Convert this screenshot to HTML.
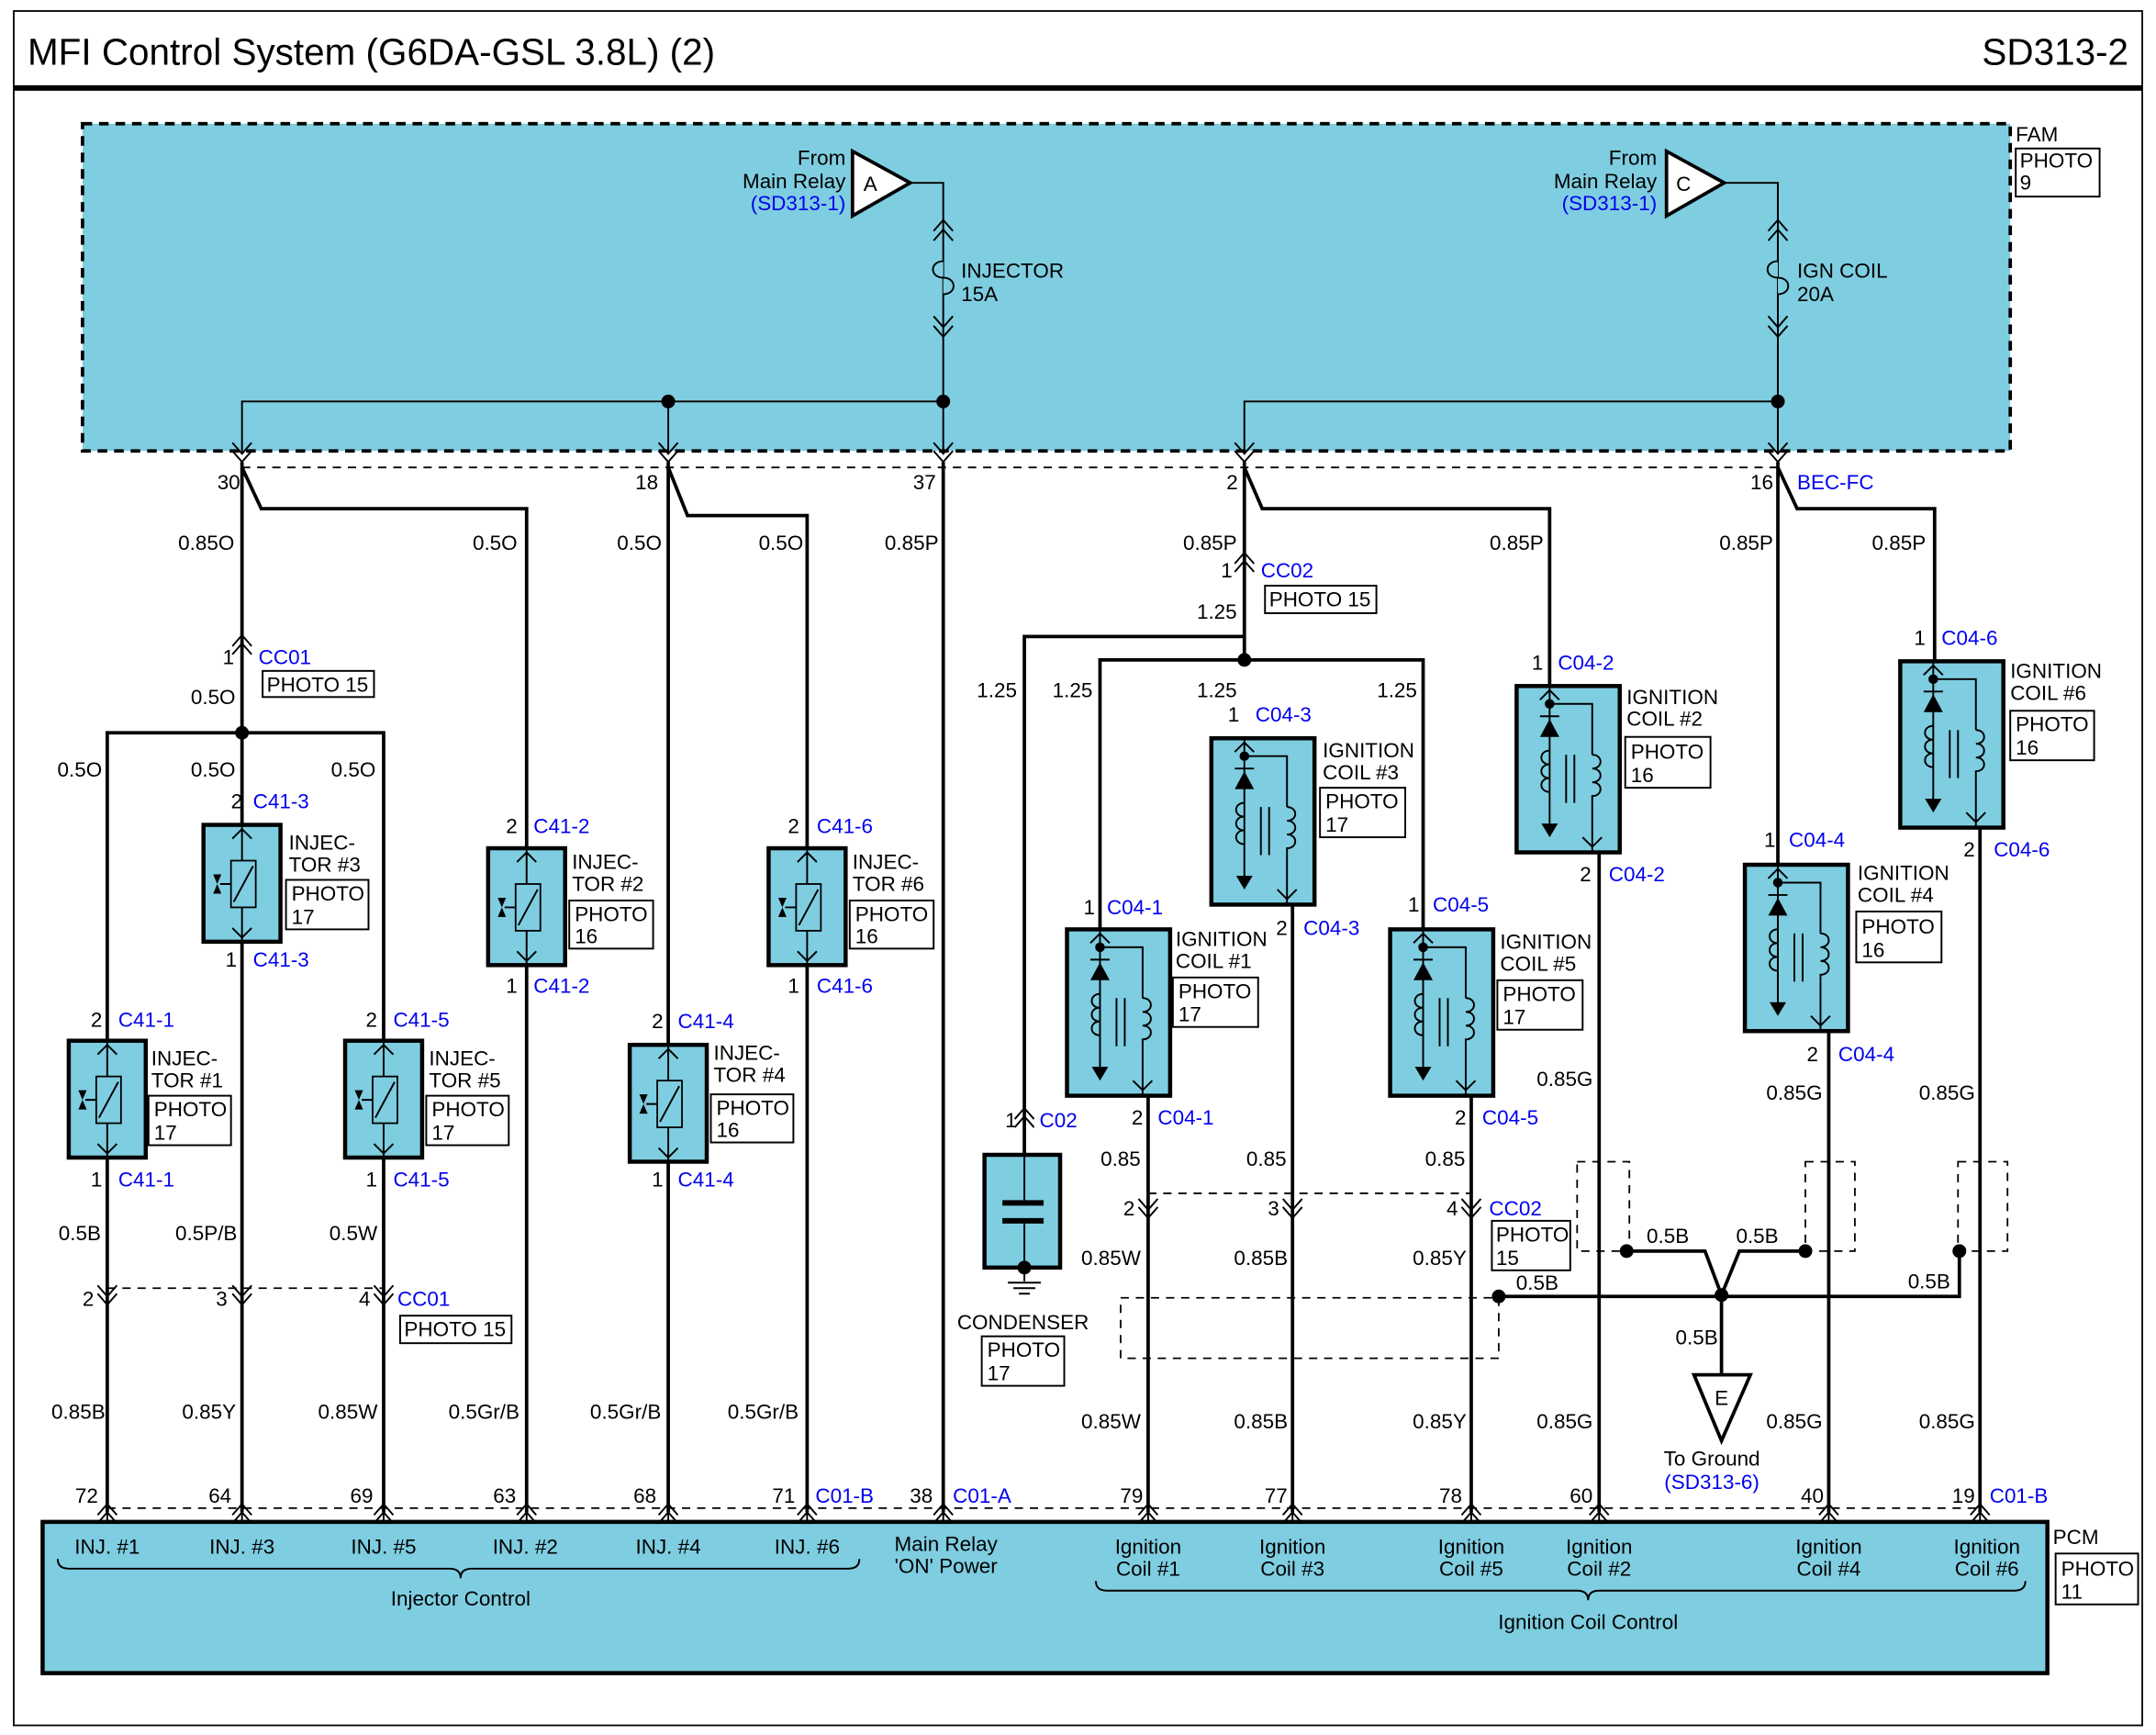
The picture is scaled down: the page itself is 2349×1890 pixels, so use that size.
<!DOCTYPE html>
<html><head><meta charset="utf-8"><style>
html,body{margin:0;padding:0;background:#fff}
svg{display:block}
text{font-family:"Liberation Sans",Arial,sans-serif;font-size:15px;fill:#000}
.b{fill:#0000ee}
.w{stroke:#000;stroke-width:2.5;fill:none}
.t{stroke:#000;stroke-width:1.3;fill:none}
.d{stroke:#000;stroke-width:1.2;fill:none;stroke-dasharray:6,5}
.bx{fill:#fff;stroke:#000;stroke-width:1.3}
.c{fill:#7fcde0;stroke:#000;stroke-width:3}
</style></head><body>
<svg width="2349" height="1890" viewBox="0 0 1568 1262" preserveAspectRatio="none" xmlns="http://www.w3.org/2000/svg">
<defs>
<path id="cv" d="M-7,-8 L0,0 L7,-8 M-7,-2 L0,6 L7,-2" stroke="#000" stroke-width="1.3" fill="none"/>
<path id="cu" d="M-7,8 L0,0 L7,8 M-7,2 L0,-6 L7,2" stroke="#000" stroke-width="1.3" fill="none"/>
<g id="inj">
<rect x="0" y="0" width="56" height="85" class="c"/>
<path d="M28,0 V85 M21,10 L28,3 L35,10 M21,75 L28,82 L35,75" class="t"/>
<rect x="20" y="26" width="18" height="34" fill="#7fcde0" stroke="#000" stroke-width="1.2"/>
<path d="M22,56 L36,30 M12,43 H20" class="t"/>
<path d="M7,36 L13,36 L7,50 L13,50 Z" fill="#000"/>
</g>
<g id="coil">
<rect x="0" y="0" width="75" height="121" class="c"/>
<path d="M24,0 V104 M17,10 L24,3 L31,10 M24,13 H55 V50 M55,85 V121 M48,110 L55,117 L62,110" class="t"/>
<circle cx="24" cy="13" r="3.5" fill="#000"/>
<path d="M17,22 H31" class="t"/>
<path d="M17,37 L24,24 L31,37 Z" fill="#000"/>
<path d="M24,47 c-8,0 -8,10 0,10 c-8,0 -8,10 0,10 c-8,0 -8,10 0,10 M55,50 c8,0 8,10 0,10 c8,0 8,10 0,10 c8,0 8,10 0,10 v5" class="t"/>
<path d="M36,50 V85 M42,50 V85" class="t"/>
<path d="M18,100 L30,100 L24,110 Z" fill="#000"/>
</g>
</defs>

<!-- frame -->
<rect x="10" y="8" width="1548" height="1247" fill="none" stroke="#000" stroke-width="1.2"/>
<text x="20" y="47" style="font-size:27px">MFI Control System (G6DA-GSL 3.8L) (2)</text>
<text x="1548" y="47" text-anchor="end" style="font-size:27px">SD313-2</text>
<rect x="10" y="62" width="1548" height="4" fill="#000"/>

<!-- FAM -->
<rect x="60" y="90" width="1402" height="238" fill="#7fcde0" stroke="#000" stroke-width="2.5" stroke-dasharray="7,5"/>
<text x="1466" y="103">FAM</text>
<rect x="1466" y="108" width="61" height="35" class="bx"/><text x="1469" y="122">PHOTO</text><text x="1469" y="138">9</text>

<!-- fuses -->
<path d="M620,110 L662,133 L620,157 Z" fill="#fff" stroke="#000" stroke-width="2.5"/><text x="628" y="139">A</text>
<text x="615" y="120" text-anchor="end">From</text><text x="615" y="137" text-anchor="end">Main Relay</text><text x="615" y="153" text-anchor="end" class="b">(SD313-1)</text>
<path d="M662,133 H686 V292" class="t"/>
<path d="M686,160 l-7,8 M686,160 l7,8 M686,167 l-7,8 M686,167 l7,8 M686,245 l-7,-8 M686,245 l7,-8 M686,238 l-7,-8 M686,238 l7,-8" class="t"/>
<path d="M686,190 c-10,0 -10,12 0,12 c10,0 10,12 0,12" fill="#7fcde0" stroke="#000" stroke-width="1.3"/>
<text x="699" y="202">INJECTOR</text><text x="699" y="219">15A</text>

<path d="M1212,110 L1254,133 L1212,157 Z" fill="#fff" stroke="#000" stroke-width="2.5"/><text x="1219" y="139">C</text>
<text x="1205" y="120" text-anchor="end">From</text><text x="1205" y="137" text-anchor="end">Main Relay</text><text x="1205" y="153" text-anchor="end" class="b">(SD313-1)</text>
<path d="M1254,133 H1293 V292" class="t"/>
<path d="M1293,160 l-7,8 M1293,160 l7,8 M1293,167 l-7,8 M1293,167 l7,8 M1293,245 l-7,-8 M1293,245 l7,-8 M1293,238 l-7,-8 M1293,238 l7,-8" class="t"/>
<path d="M1293,190 c-10,0 -10,12 0,12 c10,0 10,12 0,12" fill="#7fcde0" stroke="#000" stroke-width="1.3"/>
<text x="1307" y="202">IGN COIL</text><text x="1307" y="219">20A</text>

<!-- buses -->
<path d="M176,330 V292 H686 M486,292 V330 M686,292 V330 M905,330 V292 H1293 V330" class="t"/>
<circle cx="486" cy="292" r="5" fill="#000"/><circle cx="686" cy="292" r="5" fill="#000"/><circle cx="1293" cy="292" r="5" fill="#000"/>
<use href="#cv" x="176" y="330"/><use href="#cv" x="486" y="330"/><use href="#cv" x="686" y="330"/><use href="#cv" x="905" y="330"/><use href="#cv" x="1293" y="330"/>
<path d="M176,340 H1293" class="d"/>
<text x="158" y="356">30</text><text x="462" y="356">18</text><text x="664" y="356">37</text><text x="892" y="356">2</text><text x="1273" y="356">16</text><text x="1307" y="356" class="b">BEC-FC</text>

<!-- injector wiring -->
<path d="M176,336 V533 M176,340 L190,370 H383 V617 M486,336 V760 M486,340 L500,375 H587 V617 M686,336 V1100" class="w"/>
<path d="M78,757 V533 H279 V757 M176,533 V600" class="w"/>
<circle cx="176" cy="533" r="5" fill="#000"/>
<use href="#cu" x="176" y="468"/>
<text x="150" y="400" text-anchor="middle">0.85O</text><text x="360" y="400" text-anchor="middle">0.5O</text><text x="465" y="400" text-anchor="middle">0.5O</text><text x="568" y="400" text-anchor="middle">0.5O</text><text x="663" y="400" text-anchor="middle">0.85P</text>
<text x="162" y="483">1</text><text x="188" y="483" class="b">CC01</text>
<rect x="191" y="488" width="81" height="19" class="bx"/><text x="194" y="503">PHOTO 15</text>
<text x="155" y="512" text-anchor="middle">0.5O</text>
<text x="58" y="565" text-anchor="middle">0.5O</text><text x="155" y="565" text-anchor="middle">0.5O</text><text x="257" y="565" text-anchor="middle">0.5O</text>

<!-- injectors -->
<use href="#inj" x="148" y="600"/>
<text x="168" y="588">2</text><text x="184" y="588" class="b">C41-3</text>
<text x="210" y="618">INJEC-</text><text x="210" y="634">TOR #3</text>
<rect x="208" y="640" width="60" height="36" class="bx"/><text x="212" y="655">PHOTO</text><text x="212" y="672">17</text>
<text x="164" y="703">1</text><text x="184" y="703" class="b">C41-3</text>

<use href="#inj" x="50" y="757"/>
<text x="66" y="747">2</text><text x="86" y="747" class="b">C41-1</text>
<text x="110" y="775">INJEC-</text><text x="110" y="791">TOR #1</text>
<rect x="108" y="797" width="60" height="36" class="bx"/><text x="112" y="812">PHOTO</text><text x="112" y="829">17</text>
<text x="66" y="863">1</text><text x="86" y="863" class="b">C41-1</text>

<use href="#inj" x="251" y="757"/>
<text x="266" y="747">2</text><text x="286" y="747" class="b">C41-5</text>
<text x="312" y="775">INJEC-</text><text x="312" y="791">TOR #5</text>
<rect x="310" y="797" width="60" height="36" class="bx"/><text x="314" y="812">PHOTO</text><text x="314" y="829">17</text>
<text x="266" y="863">1</text><text x="286" y="863" class="b">C41-5</text>

<use href="#inj" x="355" y="617"/>
<text x="368" y="606">2</text><text x="388" y="606" class="b">C41-2</text>
<text x="416" y="632">INJEC-</text><text x="416" y="648">TOR #2</text>
<rect x="414" y="655" width="61" height="35" class="bx"/><text x="418" y="670">PHOTO</text><text x="418" y="686">16</text>
<text x="368" y="722">1</text><text x="388" y="722" class="b">C41-2</text>

<use href="#inj" x="559" y="617"/>
<text x="573" y="606">2</text><text x="594" y="606" class="b">C41-6</text>
<text x="620" y="632">INJEC-</text><text x="620" y="648">TOR #6</text>
<rect x="618" y="655" width="61" height="35" class="bx"/><text x="622" y="670">PHOTO</text><text x="622" y="686">16</text>
<text x="573" y="722">1</text><text x="594" y="722" class="b">C41-6</text>

<use href="#inj" x="458" y="760"/>
<text x="474" y="748">2</text><text x="493" y="748" class="b">C41-4</text>
<text x="519" y="771">INJEC-</text><text x="519" y="787">TOR #4</text>
<rect x="517" y="796" width="60" height="35" class="bx"/><text x="521" y="811">PHOTO</text><text x="521" y="827">16</text>
<text x="474" y="863">1</text><text x="493" y="863" class="b">C41-4</text>

<!-- injector lower -->
<path d="M78,842 V1100 M176,685 V1100 M279,842 V1100 M383,702 V1100 M486,845 V1100 M587,702 V1100" class="w"/>
<use href="#cv" x="78" y="943"/><use href="#cv" x="176" y="943"/><use href="#cv" x="279" y="943"/>
<path d="M78,937 H279" class="d"/>
<text x="58" y="902" text-anchor="middle">0.5B</text><text x="150" y="902" text-anchor="middle">0.5P/B</text><text x="257" y="902" text-anchor="middle">0.5W</text>
<text x="60" y="950">2</text><text x="157" y="950">3</text><text x="261" y="950">4</text><text x="289" y="950" class="b">CC01</text>
<rect x="291" y="957" width="81" height="20" class="bx"/><text x="294" y="972">PHOTO 15</text>
<text x="57" y="1032" text-anchor="middle">0.85B</text><text x="152" y="1032" text-anchor="middle">0.85Y</text><text x="253" y="1032" text-anchor="middle">0.85W</text>
<text x="352" y="1032" text-anchor="middle">0.5Gr/B</text><text x="455" y="1032" text-anchor="middle">0.5Gr/B</text><text x="555" y="1032" text-anchor="middle">0.5Gr/B</text>

<!-- ignition wiring -->
<path d="M905,336 V480 M905,340 L918,370 H1127 V499 M1293,336 V629 M1293,340 L1307,370 H1407 V481" class="w"/>
<path d="M905,463 H745 V840 M800,676 V480 H1035 V676" class="w"/>
<circle cx="905" cy="480" r="5" fill="#000"/>
<use href="#cu" x="905" y="408"/><use href="#cu" x="745" y="812"/>
<text x="880" y="400" text-anchor="middle">0.85P</text><text x="1103" y="400" text-anchor="middle">0.85P</text><text x="1270" y="400" text-anchor="middle">0.85P</text><text x="1381" y="400" text-anchor="middle">0.85P</text>
<text x="888" y="420">1</text><text x="917" y="420" class="b">CC02</text>
<rect x="920" y="426" width="81" height="20" class="bx"/><text x="923" y="441">PHOTO 15</text>
<text x="885" y="450" text-anchor="middle">1.25</text>
<text x="725" y="507" text-anchor="middle">1.25</text><text x="780" y="507" text-anchor="middle">1.25</text><text x="885" y="507" text-anchor="middle">1.25</text><text x="1016" y="507" text-anchor="middle">1.25</text>

<!-- coils -->
<use href="#coil" x="881" y="537"/>
<text x="893" y="525">1</text><text x="913" y="525" class="b">C04-3</text>
<text x="962" y="551">IGNITION</text><text x="962" y="567">COIL #3</text>
<rect x="960" y="573" width="62" height="36" class="bx"/><text x="964" y="588">PHOTO</text><text x="964" y="605">17</text>
<text x="928" y="680">2</text><text x="948" y="680" class="b">C04-3</text>

<use href="#coil" x="776" y="676"/>
<text x="788" y="665">1</text><text x="805" y="665" class="b">C04-1</text>
<text x="855" y="688">IGNITION</text><text x="855" y="704">COIL #1</text>
<rect x="853" y="711" width="62" height="36" class="bx"/><text x="857" y="726">PHOTO</text><text x="857" y="743">17</text>
<text x="823" y="818">2</text><text x="842" y="818" class="b">C04-1</text>

<use href="#coil" x="1011" y="676"/>
<text x="1024" y="663">1</text><text x="1042" y="663" class="b">C04-5</text>
<text x="1091" y="690">IGNITION</text><text x="1091" y="706">COIL #5</text>
<rect x="1089" y="713" width="62" height="36" class="bx"/><text x="1093" y="728">PHOTO</text><text x="1093" y="745">17</text>
<text x="1058" y="818">2</text><text x="1078" y="818" class="b">C04-5</text>

<use href="#coil" x="1103" y="499"/>
<text x="1114" y="487">1</text><text x="1133" y="487" class="b">C04-2</text>
<text x="1183" y="512">IGNITION</text><text x="1183" y="528">COIL #2</text>
<rect x="1182" y="536" width="62" height="37" class="bx"/><text x="1186" y="552">PHOTO</text><text x="1186" y="569">16</text>
<text x="1149" y="641">2</text><text x="1170" y="641" class="b">C04-2</text>

<use href="#coil" x="1382" y="481"/>
<text x="1392" y="469">1</text><text x="1412" y="469" class="b">C04-6</text>
<text x="1462" y="493">IGNITION</text><text x="1462" y="509">COIL #6</text>
<rect x="1462" y="517" width="61" height="36" class="bx"/><text x="1466" y="532">PHOTO</text><text x="1466" y="549">16</text>
<text x="1428" y="623">2</text><text x="1450" y="623" class="b">C04-6</text>

<use href="#coil" x="1269" y="629"/>
<text x="1283" y="616">1</text><text x="1301" y="616" class="b">C04-4</text>
<text x="1351" y="640">IGNITION</text><text x="1351" y="656">COIL #4</text>
<rect x="1350" y="663" width="62" height="37" class="bx"/><text x="1354" y="679">PHOTO</text><text x="1354" y="696">16</text>
<text x="1314" y="772">2</text><text x="1337" y="772" class="b">C04-4</text>

<!-- condenser -->
<text x="731" y="820">1</text><text x="756" y="820" class="b">C02</text>
<rect x="716" y="840" width="55" height="82" class="c"/>
<path d="M729,875 H759 M729,888 H759" stroke="#000" stroke-width="4"/>
<path d="M745,840 V875 M745,888 V922 V932" class="t"/>
<circle cx="745" cy="922" r="5" fill="#000"/>
<path d="M733,933 H757 M737,937 H753 M741,941 H749" class="t"/>
<text x="744" y="967" text-anchor="middle">CONDENSER</text>
<rect x="714" y="972" width="60" height="36" class="bx"/><text x="718" y="987">PHOTO</text><text x="718" y="1004">17</text>

<!-- coil outputs -->
<path d="M835,797 V1100 M940,658 V1100 M1070,797 V1100 M1163,620 V1100 M1330,750 V1100 M1440,602 V1100" class="w"/>
<use href="#cv" x="835" y="880"/><use href="#cv" x="940" y="880"/><use href="#cv" x="1070" y="880"/>
<path d="M835,868 H1070" class="d"/>
<text x="815" y="848" text-anchor="middle">0.85</text><text x="921" y="848" text-anchor="middle">0.85</text><text x="1051" y="848" text-anchor="middle">0.85</text>
<text x="817" y="884">2</text><text x="922" y="884">3</text><text x="1052" y="884">4</text><text x="1083" y="884" class="b">CC02</text>
<rect x="1085" y="888" width="57" height="36" class="bx"/><text x="1088" y="903">PHOTO</text><text x="1088" y="920">15</text>
<text x="808" y="920" text-anchor="middle">0.85W</text><text x="917" y="920" text-anchor="middle">0.85B</text><text x="1047" y="920" text-anchor="middle">0.85Y</text>
<text x="1138" y="790" text-anchor="middle">0.85G</text><text x="1305" y="800" text-anchor="middle">0.85G</text><text x="1416" y="800" text-anchor="middle">0.85G</text>
<text x="808" y="1039" text-anchor="middle">0.85W</text><text x="917" y="1039" text-anchor="middle">0.85B</text><text x="1047" y="1039" text-anchor="middle">0.85Y</text>
<text x="1138" y="1039" text-anchor="middle">0.85G</text><text x="1305" y="1039" text-anchor="middle">0.85G</text><text x="1416" y="1039" text-anchor="middle">0.85G</text>

<!-- ground -->
<path d="M815,944 H1090 V988 H815 Z M1147,845 H1185 V910 H1147 Z M1313,845 H1349 V910 H1313 Z M1424,845 H1460 V910 H1424 Z" class="d"/>
<path d="M1183,910 H1240 L1252,942 M1313,910 H1265 L1252,942 M1090,943 H1425 V910 M1252,942 V1000" class="w"/>
<circle cx="1183" cy="910" r="5" fill="#000"/><circle cx="1313" cy="910" r="5" fill="#000"/><circle cx="1425" cy="910" r="5" fill="#000"/><circle cx="1090" cy="943" r="5" fill="#000"/><circle cx="1252" cy="942" r="5" fill="#000"/>
<path d="M1232,1000 L1273,1000 L1252,1048 Z" fill="#fff" stroke="#000" stroke-width="2.5"/><text x="1252" y="1022" text-anchor="middle">E</text>
<text x="1213" y="904" text-anchor="middle">0.5B</text><text x="1278" y="904" text-anchor="middle">0.5B</text><text x="1118" y="938" text-anchor="middle">0.5B</text><text x="1403" y="937" text-anchor="middle">0.5B</text><text x="1234" y="978" text-anchor="middle">0.5B</text>
<text x="1245" y="1066" text-anchor="middle">To Ground</text><text x="1245" y="1083" text-anchor="middle" class="b">(SD313-6)</text>

<!-- PCM -->
<path d="M78,1097 H1440" class="d"/>
<g>
<use href="#cu" x="78" y="1100"/><use href="#cu" x="176" y="1100"/><use href="#cu" x="279" y="1100"/><use href="#cu" x="383" y="1100"/><use href="#cu" x="486" y="1100"/><use href="#cu" x="587" y="1100"/><use href="#cu" x="686" y="1100"/><use href="#cu" x="835" y="1100"/><use href="#cu" x="940" y="1100"/><use href="#cu" x="1070" y="1100"/><use href="#cu" x="1163" y="1100"/><use href="#cu" x="1330" y="1100"/><use href="#cu" x="1440" y="1100"/>
</g>
<text x="63" y="1093" text-anchor="middle">72</text><text x="160" y="1093" text-anchor="middle">64</text><text x="263" y="1093" text-anchor="middle">69</text><text x="367" y="1093" text-anchor="middle">63</text><text x="469" y="1093" text-anchor="middle">68</text><text x="570" y="1093" text-anchor="middle">71</text><text x="593" y="1093" class="b">C01-B</text>
<text x="670" y="1093" text-anchor="middle">38</text><text x="693" y="1093" class="b">C01-A</text>
<text x="823" y="1093" text-anchor="middle">79</text><text x="928" y="1093" text-anchor="middle">77</text><text x="1055" y="1093" text-anchor="middle">78</text><text x="1150" y="1093" text-anchor="middle">60</text><text x="1318" y="1093" text-anchor="middle">40</text><text x="1428" y="1093" text-anchor="middle">19</text><text x="1447" y="1093" class="b">C01-B</text>
<rect x="31" y="1107" width="1458" height="110" class="c"/>
<path d="M78,1100 V1107 M176,1100 V1107 M279,1100 V1107 M383,1100 V1107 M486,1100 V1107 M587,1100 V1107 M686,1100 V1107 M835,1100 V1107 M940,1100 V1107 M1070,1100 V1107 M1163,1100 V1107 M1330,1100 V1107 M1440,1100 V1107" class="t"/>
<g text-anchor="middle">
<text x="78" y="1130">INJ. #1</text><text x="176" y="1130">INJ. #3</text><text x="279" y="1130">INJ. #5</text><text x="382" y="1130">INJ. #2</text><text x="486" y="1130">INJ. #4</text><text x="587" y="1130">INJ. #6</text>
<text x="335" y="1168">Injector Control</text>
<text x="688" y="1128">Main Relay</text><text x="688" y="1144">'ON' Power</text>
<text x="835" y="1130">Ignition</text><text x="835" y="1146">Coil #1</text>
<text x="940" y="1130">Ignition</text><text x="940" y="1146">Coil #3</text>
<text x="1070" y="1130">Ignition</text><text x="1070" y="1146">Coil #5</text>
<text x="1163" y="1130">Ignition</text><text x="1163" y="1146">Coil #2</text>
<text x="1330" y="1130">Ignition</text><text x="1330" y="1146">Coil #4</text>
<text x="1445" y="1130">Ignition</text><text x="1445" y="1146">Coil #6</text>
<text x="1155" y="1185">Ignition Coil Control</text>
</g>
<path d="M42,1134 Q42,1141 50,1141 H327 Q335,1141 335,1148 Q335,1141 343,1141 H617 Q625,1141 625,1134" class="t"/>
<path d="M797,1150 Q797,1157 805,1157 H1147 Q1155,1157 1155,1164 Q1155,1157 1163,1157 H1465 Q1473,1157 1473,1150" class="t"/>
<text x="1493" y="1123">PCM</text>
<rect x="1495" y="1130" width="60" height="37" class="bx"/><text x="1499" y="1146">PHOTO</text><text x="1499" y="1163">11</text>
</svg>
</body></html>
